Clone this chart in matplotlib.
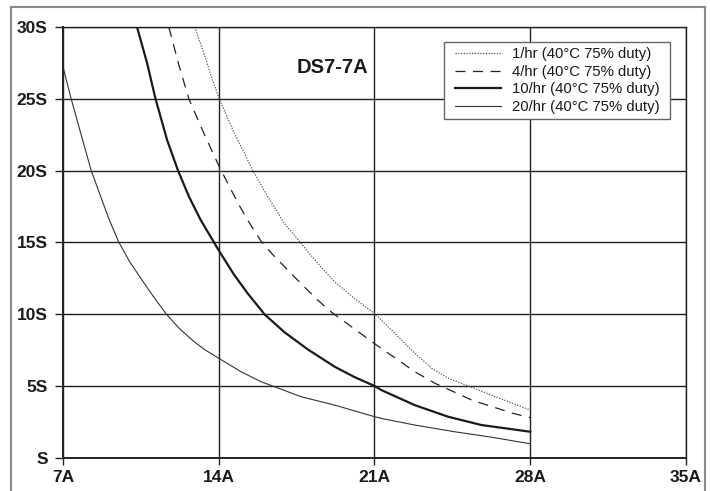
import matplotlib
matplotlib.use("Agg")
import matplotlib.pyplot as plt
from matplotlib.lines import Line2D
from matplotlib.patches import Rectangle

plt.rcParams['font.family'] = ['Liberation Sans', 'DejaVu Sans']

# amps (x) and seconds (y)
amps_1hr = [12.92, 13.34, 13.72, 14.0, 14.69, 15.52, 16.2, 16.95, 17.7, 18.45, 19.2,
            20.1, 21.0, 21.3, 22.07, 22.8, 23.6, 24.3, 25.3, 26.6, 28.0]
secs_1hr = [30.0, 28.15, 26.3, 25.1, 22.65, 20.05, 18.2, 16.33, 14.94, 13.55, 12.27,
            11.1, 10.05, 9.6, 8.43, 7.3, 6.2, 5.55, 4.95, 4.15, 3.32]

amps_4hr = [11.76, 12.2, 12.66, 13.19, 13.66, 14.05, 14.48, 14.88, 15.3, 15.9, 16.4,
            17.4, 18.4, 19.1, 19.9, 20.6, 21.3, 22.07, 22.8, 23.7, 24.55, 25.4, 26.3,
            27.2, 28.0]
secs_4hr = [30.0, 27.4, 25.0, 23.1, 21.5, 20.2, 18.9, 17.7, 16.55, 15.1, 14.2,
            12.6, 11.05, 10.1, 9.2, 8.4, 7.62, 6.8, 6.0, 5.2, 4.6, 4.0, 3.55,
            3.1, 2.79]

amps_10hr = [10.33, 10.78, 11.16, 11.68, 12.16, 12.66, 13.19, 13.79, 14.0, 14.69,
             15.3, 15.9, 16.05, 16.95, 18.0, 19.2, 20.1, 21.0, 21.3, 22.8, 24.3,
             25.8, 28.0]
secs_10hr = [30.0, 27.5, 25.0, 22.14, 20.05, 18.2, 16.56, 15.0, 14.45, 12.75,
             11.45, 10.3, 10.0, 8.75, 7.55, 6.35, 5.62, 5.0, 4.72, 3.67, 2.86,
             2.28, 1.81]

amps_20hr = [7.0, 7.36, 8.26, 8.75, 9.1, 9.5, 10.0, 10.63, 11.1, 11.65, 12.2, 12.88,
             13.4, 14.0, 14.99, 15.9, 17.7, 19.2, 21.0, 21.3, 22.8, 24.6, 26.3, 28.0]
secs_20hr = [27.25, 25.05, 20.05, 17.96, 16.5, 15.05, 13.65, 12.2, 11.15, 10.0, 9.05,
             8.1, 7.5, 6.93, 6.0, 5.3, 4.25, 3.67, 2.86, 2.74, 2.28, 1.81, 1.42, 0.97]

labels = ['1/hr (40°C 75% duty)', '4/hr (40°C 75% duty)',
          '10/hr (40°C 75% duty)', '20/hr (40°C 75% duty)']

x_ticks = [7, 14, 21, 28, 35]
x_labels = ['7A', '14A', '21A', '28A', '35A']
y_ticks = [0, 5, 10, 15, 20, 25, 30]
y_labels = ['S', '5S', '10S', '15S', '20S', '25S', '30S']

fig = plt.figure(figsize=(7.1, 4.91), dpi=100)
ax = fig.add_axes([0.0887, 0.0678, 0.8775, 0.8768])

l1, = ax.plot(amps_1hr, secs_1hr, color='#555555', lw=0.9, linestyle=(0, (1, 1.2)))
l2, = ax.plot(amps_4hr, secs_4hr, color='#222222', lw=0.9, linestyle=(0, (8, 6)))
l3, = ax.plot(amps_10hr, secs_10hr, color='#1a1a1a', lw=1.6)
l4, = ax.plot(amps_20hr, secs_20hr, color='#333333', lw=0.8)

ax.set_xlim(7, 35)
ax.set_ylim(0, 30)
ax.set_xticks(x_ticks)
ax.set_xticklabels(x_labels)
ax.set_yticks(y_ticks)
ax.set_yticklabels(y_labels)
for lbl in ax.get_xticklabels() + ax.get_yticklabels():
    lbl.set_fontweight('bold')
    lbl.set_fontsize(12.5)
    lbl.set_color('#1a1a1a')
ax.tick_params(axis='x', length=5, width=1, pad=4, color='#222222')
ax.tick_params(axis='y', length=6, width=1, pad=5, color='#222222')

ax.grid(True, color='#222222', lw=1.0)
ax.set_axisbelow(True)
for s in ax.spines.values():
    s.set_color('#222222')
    s.set_linewidth(1.0)
ax.spines['left'].set_linewidth(1.4)
ax.spines['bottom'].set_linewidth(1.4)

ax.text(20.73, 27.2, 'DS7-7A', fontsize=14.5, fontweight='bold', color='#1a1a1a',
        ha='right', va='center')

# legend box drawn by hand so its padding matches the reference
fig.add_artist(Rectangle((444 / 710, 1 - 119 / 491), 226 / 710, 77 / 491,
                         transform=fig.transFigure, facecolor='white',
                         edgecolor='#666666', lw=1.0, zorder=4))
leg = fig.legend([l1, l2, l3, l4], labels, loc='upper left',
                 bbox_to_anchor=(455 / 710, 1 - 47 / 491), borderaxespad=0,
                 borderpad=0, fontsize=10.7, handlelength=3.1, handletextpad=0.72,
                 labelspacing=0.25, frameon=False)
leg.set_zorder(5)
for t in leg.get_texts():
    t.set_color('#1a1a1a')

# grey outer frame around the chart
frame_kw = dict(color='#8a8a8a', lw=1.5, transform=fig.transFigure)
x0, x1, y1 = 11 / 710, 705 / 710, 1 - 7 / 491
fig.add_artist(Line2D([x0, x0], [0, y1], **frame_kw))
fig.add_artist(Line2D([x0, x1], [y1, y1], **frame_kw))
fig.add_artist(Line2D([x1, x1], [0, y1], **frame_kw))

fig.savefig('out.png', dpi=100)
